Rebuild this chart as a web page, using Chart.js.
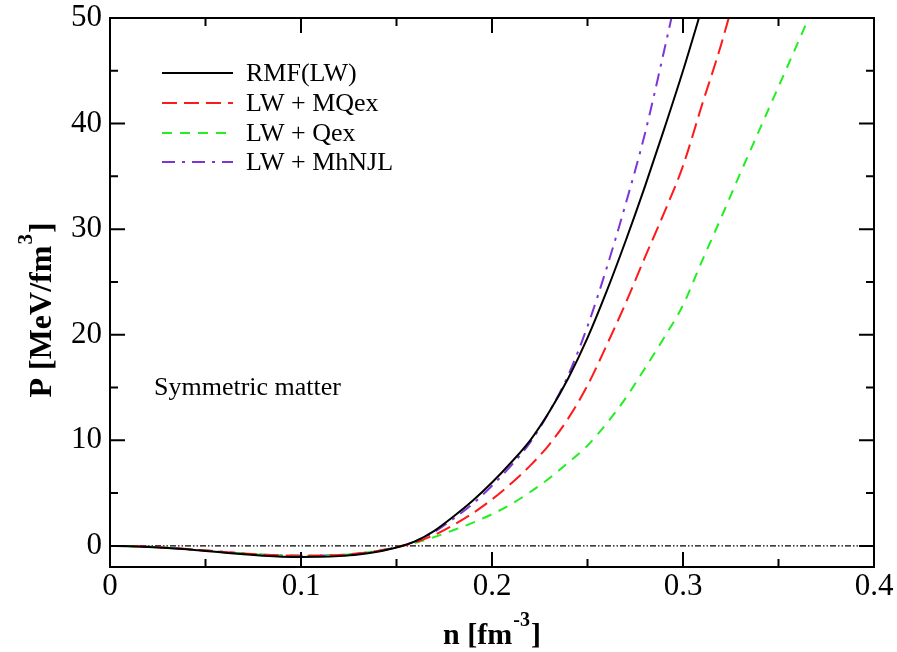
<!DOCTYPE html>
<html>
<head>
<meta charset="utf-8">
<script src="https://cdn.jsdelivr.net/npm/chart.js@4.4.0/dist/chart.umd.min.js"></script>
<style>
  html, body { margin: 0; padding: 0; background: #fff; }
  #c { display: block; }
</style>
</head>
<body>
<canvas id="c" width="897" height="652"></canvas>
<script>
// ---- data ----
const nGrid = [0,0.01,0.02,0.03,0.04,0.05,0.06,0.07,0.08,0.09,0.10,0.11,0.12,0.13,0.14,0.15,0.16,0.17,0.18,0.19,0.20,0.21,0.22,0.23,0.24,0.25,0.26,0.27,0.28,0.29,0.30,0.31,0.32,0.33,0.34,0.35,0.36,0.37];

const pRMF   = [0,-0.03,-0.1,-0.2,-0.33,-0.48,-0.64,-0.8,-0.93,-1.02,-1.05,-1.04,-0.97,-0.82,-0.55,-0.15,0.45,1.45,2.8,4.3,6.0,7.9,10.0,12.7,15.9,19.7,24.1,28.9,34.0,39.4,45.0,51.0];
const pMQex  = [0,-0.03,-0.09,-0.18,-0.3,-0.44,-0.58,-0.72,-0.83,-0.9,-0.93,-0.92,-0.86,-0.72,-0.48,-0.12,0.35,1.05,2.0,3.1,4.4,5.9,7.6,9.6,12.1,15.2,19.0,23.0,27.3,31.5,36.0,41.8,47.5,54.0];
const pQex   = [0,-0.03,-0.09,-0.18,-0.3,-0.44,-0.58,-0.72,-0.83,-0.9,-0.93,-0.92,-0.86,-0.72,-0.48,-0.12,0.3,0.85,1.5,2.2,3.0,3.95,5.1,6.4,7.9,9.5,11.6,14.0,16.8,19.7,22.8,27.0,31.1,35.3,39.4,43.5,47.6,51.7];
const pMhNJL = [0,-0.03,-0.09,-0.18,-0.3,-0.44,-0.58,-0.72,-0.83,-0.9,-0.93,-0.92,-0.86,-0.72,-0.48,-0.12,0.45,1.35,2.6,4.0,5.7,7.6,9.8,12.7,16.2,20.8,26.3,32.4,39.0,46.8,55.0];

const seriesNames = ["RMF(LW)", "LW + MQex", "LW + Qex", "LW + MhNJL"];
const xTicks = [0, 0.1, 0.2, 0.3, 0.4];
const xMinorTicks = [0.05, 0.15, 0.25, 0.35];
const yTicks = [0, 10, 20, 30, 40, 50];
const yMinorTicks = [5, 15, 25, 35, 45];
const zeroLine = [0, 0];
const zeroLineX = [0, 0.4];

// ---- build datasets ----
function toPts(vals) { return vals.map((v, i) => ({ x: nGrid[i], y: v })); }

const SERIF = "'Liberation Serif', 'DejaVu Serif', serif";

const datasets = [
  { label: seriesNames[0], data: toPts(pRMF),   borderColor: '#000000', borderWidth: 2,   borderDash: [] },
  { label: seriesNames[1], data: toPts(pMQex),  borderColor: '#ff1a1a', borderWidth: 2,   borderDash: [15, 7] },
  { label: seriesNames[2], data: toPts(pQex),   borderColor: '#22ee22', borderWidth: 2,   borderDash: [10, 8] },
  { label: seriesNames[3], data: toPts(pMhNJL), borderColor: '#7d35d6', borderWidth: 2,   borderDash: [13, 7, 3, 7] },
  { label: 'zero', data: zeroLineX.map((x, i) => ({ x: x, y: zeroLine[i] })), borderColor: '#000000', borderWidth: 1.3, borderDash: [6, 2, 1.5, 2, 1.5, 2], isZero: true }
].map(d => Object.assign({
  showLine: true, pointRadius: 0, pointHoverRadius: 0, fill: false,
  cubicInterpolationMode: 'monotone'
}, d));
datasets.forEach((d, i) => d.order = d.isZero ? 10 : i);

// ---- custom drawing: frame, inward ticks, legend, titles, note ----
const decorPlugin = {
  id: 'decor',
  afterDatasetsDraw(chart) {
    const ctx = chart.ctx, a = chart.chartArea;
    const xs = chart.scales.x, ys = chart.scales.y;
    ctx.save();
    ctx.strokeStyle = '#000';
    ctx.lineWidth = 2;
    ctx.setLineDash([]);
    ctx.strokeRect(a.left, a.top, a.right - a.left, a.bottom - a.top);
    const MAJ = 15, MIN = 8;
    ctx.beginPath();
    const xt = (v, L) => {
      const p = xs.getPixelForValue(v);
      ctx.moveTo(p, a.bottom); ctx.lineTo(p, a.bottom - L);
      ctx.moveTo(p, a.top); ctx.lineTo(p, a.top + L);
    };
    const yt = (v, L) => {
      const p = ys.getPixelForValue(v);
      ctx.moveTo(a.left, p); ctx.lineTo(a.left + L, p);
      ctx.moveTo(a.right, p); ctx.lineTo(a.right - L, p);
    };
    xTicks.forEach(v => xt(v, MAJ));
    xMinorTicks.forEach(v => xt(v, MIN));
    yTicks.forEach(v => yt(v, MAJ));
    yMinorTicks.forEach(v => yt(v, MIN));
    ctx.stroke();

    // legend
    const rows = [73, 103, 133, 162];
    chart.data.datasets.forEach((d, i) => {
      if (d.isZero) return;
      const y = rows[i];
      ctx.beginPath();
      ctx.strokeStyle = d.borderColor;
      ctx.lineWidth = d.borderWidth;
      ctx.setLineDash(d.borderDash);
      ctx.moveTo(162, y); ctx.lineTo(233, y);
      ctx.stroke();
      ctx.setLineDash([]);
      ctx.fillStyle = '#000';
      ctx.font = "26px " + SERIF;
      ctx.textBaseline = 'middle';
      ctx.textAlign = 'left';
      ctx.fillText(d.label, 246, y + 1);
    });

    // note
    ctx.font = "26px " + SERIF;
    ctx.fillStyle = '#000';
    ctx.textBaseline = 'middle';
    ctx.fillText('Symmetric matter', 154, 388);

    // x title: n [fm^-3]
    ctx.textBaseline = 'alphabetic';
    const big = "bold 30px " + SERIF, small = "bold 20px " + SERIF;
    const t1 = 'n [fm', t2 = '-3', t3 = ']';
    ctx.font = big;  const w1 = ctx.measureText(t1).width;
    ctx.font = small; const w2 = ctx.measureText(t2).width;
    ctx.font = big;  const w3 = ctx.measureText(t3).width;
    let x0 = (a.left + a.right) / 2 - (w1 + w2 + w3 + 2) / 2;
    const yb = 644;
    ctx.font = big;  ctx.fillText(t1, x0, yb);
    ctx.font = small; ctx.fillText(t2, x0 + w1 + 1, yb - 18);
    ctx.font = big;  ctx.fillText(t3, x0 + w1 + w2 + 2, yb);

    // y title: P [MeV/fm^3]
    const bigY = "bold 32px " + SERIF, smallY = "bold 21px " + SERIF;
    ctx.translate(51, 310);
    ctx.rotate(-Math.PI / 2);
    const s1 = 'P [MeV/fm', s2 = '3', s3 = ']';
    ctx.font = bigY;  const v1 = ctx.measureText(s1).width;
    ctx.font = smallY; const v2 = ctx.measureText(s2).width;
    ctx.font = bigY;  const v3 = ctx.measureText(s3).width;
    let y0 = -(v1 + v2 + v3 + 2) / 2;
    ctx.font = bigY;  ctx.fillText(s1, y0, 0);
    ctx.font = smallY; ctx.fillText(s2, y0 + v1 + 1, -19);
    ctx.font = bigY;  ctx.fillText(s3, y0 + v1 + v2 + 2, 0);
    ctx.restore();
  }
};

new Chart(document.getElementById('c'), {
  type: 'scatter',
  data: { datasets: datasets },
  plugins: [decorPlugin],
  options: {
    responsive: false,
    devicePixelRatio: 1,
    animation: false,
    events: [],
    layout: { padding: { left: 0, right: 23, top: 18, bottom: 0 } },
    plugins: { legend: { display: false }, tooltip: { enabled: false } },
    scales: {
      x: {
        type: 'linear', min: 0, max: 0.4,
        afterBuildTicks: s => { s.ticks = xTicks.map(v => ({ value: v })); },
        afterFit: s => { s.height = 85; s.paddingLeft = 0; s.paddingRight = 0; },
        grid: { display: false, drawTicks: false },
        border: { display: false },
        ticks: {
          padding: 4, color: '#000', maxRotation: 0,
          font: { family: SERIF, size: 31, lineHeight: 1 },
          callback: v => v === 0 ? '0' : v.toFixed(1)
        }
      },
      y: {
        type: 'linear', min: -2, max: 50,
        afterBuildTicks: s => { s.ticks = yTicks.map(v => ({ value: v })); },
        afterFit: s => { s.width = 110; s.paddingTop = 0; s.paddingBottom = 0; },
        grid: { display: false, drawTicks: false },
        border: { display: false },
        ticks: {
          padding: 8, color: '#000',
          font: { family: SERIF, size: 31, lineHeight: 1 },
          callback: v => String(v)
        }
      }
    }
  }
});
</script>
</body>
</html>
